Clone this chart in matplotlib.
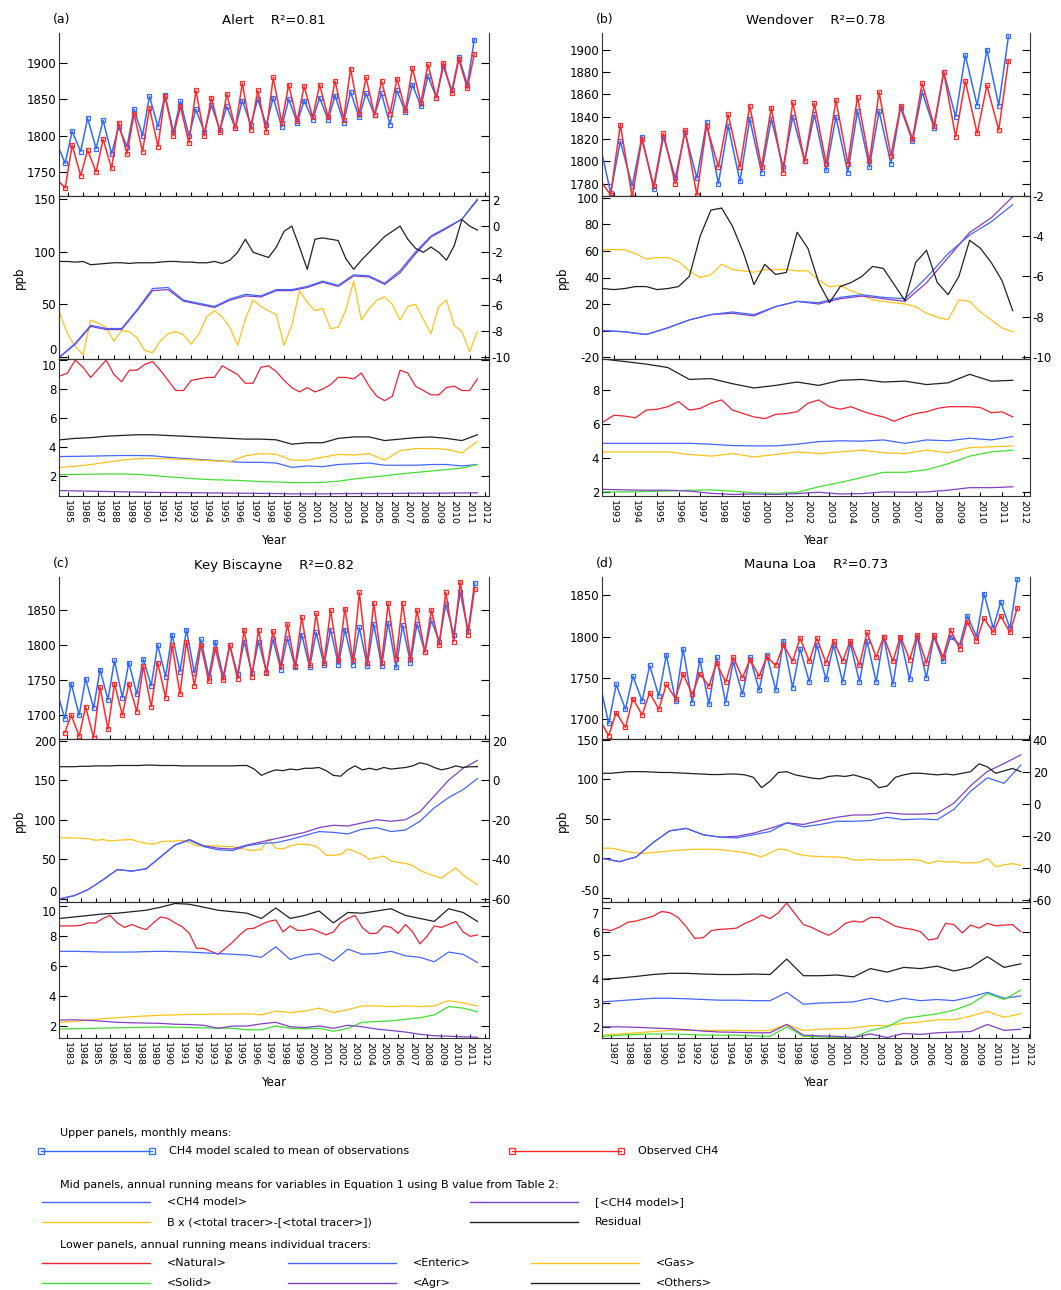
import numpy as np
import matplotlib
matplotlib.use("Agg")
import matplotlib.pyplot as plt
import matplotlib.transforms as mtransforms

plt.rcParams['font.family'] = ['DejaVu Sans']
plt.rcParams['axes.unicode_minus'] = False

# colours
C_BLUE_UP = '#2f6bff'
C_RED_UP = '#ff2a2a'
C_BLUE = '#4466ff'
C_PURPLE = '#8040c0'
C_YELLOW = '#ffc21a'
C_BLACK = '#202020'
C_RED = '#ee2233'
C_GREEN = '#44dd33'

# ---------------- (a) Alert ----------------
# upper panel: seasonal highs / lows per year (from 1984)
alert_mod_hi = [1790, 1806, 1824, 1821, 1812, 1836, 1854, 1856, 1847, 1836, 1842, 1840, 1848, 1850,
                1852, 1850, 1848, 1852, 1855, 1860, 1858, 1858, 1862, 1870, 1882, 1895, 1908, 1932]
alert_mod_lo = [1762, 1778, 1782, 1775, 1785, 1800, 1812, 1805, 1800, 1805, 1808, 1810, 1815, 1815,
                1812, 1818, 1822, 1822, 1818, 1825, 1828, 1815, 1832, 1840, 1852, 1862, 1870]
alert_obs_hi = [1740, 1787, 1780, 1795, 1818, 1830, 1838, 1855, 1840, 1862, 1852, 1857, 1872, 1862,
                1880, 1870, 1868, 1870, 1875, 1892, 1880, 1875, 1878, 1893, 1898, 1900, 1905, 1912]
alert_obs_lo = [1728, 1745, 1750, 1755, 1775, 1778, 1785, 1800, 1790, 1800, 1805, 1810, 1808, 1805,
                1818, 1820, 1825, 1825, 1822, 1830, 1828, 1830, 1835, 1845, 1852, 1858, 1865]
# mid panel (annual nodes from 1984.5, half-year nodes for yellow / residual)
alert_ch4 = [0, 13, 30, 27, 27, 45, 65, 66, 54, 51, 48, 55, 59.5, 58, 64, 64, 67, 72, 68, 78, 77, 70,
             82, 100, 115, 123, 131, 150]
alert_ch4_b = [0, 12, 29, 26, 26, 44, 63, 64, 53, 50, 47, 54, 58, 57, 63, 63, 66, 71, 67, 77, 76, 69,
               80, 98, 114, 122, 131, 149]
alert_tracer = [42, 22, 10, 2, 35, 32, 28, 15, 25, 24, 18, 6, 4, 15, 22, 24, 21, 12, 22, 38, 44, 38,
                28, 11, 36, 54, 48, 44, 40, 11, 30, 63, 52, 44, 46, 27, 28, 45, 72, 35, 46, 54, 57,
                50, 35, 48, 50, 36, 22, 48, 54, 30, 24, 5, 24]
alert_resid = [-2.7, -2.7, -2.75, -2.7, -2.95, -2.9, -2.85, -2.8, -2.8, -2.85, -2.8, -2.8, -2.8, -2.75,
               -2.7, -2.7, -2.75, -2.75, -2.8, -2.8, -2.7, -2.85, -2.6, -2.0, -1.0, -2.0, -2.2, -2.4,
               -1.6, -0.4, 0.0, -1.6, -3.3, -1.0, -0.9, -1.0, -1.1, -2.5, -3.3, -2.6, -2.0, -1.4,
               -0.8, -0.4, 0.0, -1.0, -1.7, -2.0, -1.6, -2.0, -2.6, -1.5, 0.5, 0.0, -0.3]
# lower panel
alert_natural = [8.9, 9.1, 10.0, 9.5, 8.8, 9.4, 10.0, 9.0, 8.5, 9.3, 9.3, 9.7, 9.9, 9.3, 8.6, 7.9, 7.9,
                 8.6, 8.7, 8.8, 8.8, 9.6, 9.3, 9.0, 8.4, 8.4, 9.5, 9.6, 9.2, 8.6, 8.1, 7.8, 8.1, 7.8,
                 8.0, 8.3, 8.8, 8.8, 8.7, 9.1, 8.2, 7.5, 7.2, 7.5, 9.3, 9.1, 8.2, 7.9, 7.6, 7.6, 8.1,
                 8.2, 7.9, 7.9, 8.7]
alert_others = [4.5, 4.6, 4.65, 4.75, 4.8, 4.85, 4.85, 4.8, 4.75, 4.7, 4.65, 4.6, 4.55, 4.55, 4.5, 4.2,
                4.3, 4.3, 4.6, 4.7, 4.7, 4.45, 4.55, 4.65, 4.7, 4.6, 4.45, 4.85]
alert_enteric = [3.35, 3.36, 3.38, 3.4, 3.42, 3.42, 3.4, 3.3, 3.22, 3.15, 3.08, 3.0, 2.95, 2.95, 2.9,
                 2.6, 2.7, 2.65, 2.8, 2.85, 2.9, 2.75, 2.75, 2.75, 2.8, 2.8, 2.7, 2.8]
alert_gas = [2.6, 2.68, 2.8, 2.95, 3.1, 3.2, 3.22, 3.2, 3.15, 3.1, 3.05, 3.0, 3.4, 3.55, 3.5, 3.1, 3.1,
             3.3, 3.5, 3.45, 3.55, 3.1, 3.75, 3.9, 3.9, 3.85, 3.6, 4.4]
alert_solid = [2.1, 2.12, 2.13, 2.15, 2.15, 2.12, 2.05, 1.95, 1.88, 1.8, 1.75, 1.72, 1.68, 1.62, 1.6,
               1.55, 1.55, 1.57, 1.65, 1.8, 1.92, 2.02, 2.15, 2.25, 2.35, 2.45, 2.55, 2.8]
alert_agr = [1.0, 0.98, 0.96, 0.94, 0.92, 0.9, 0.88, 0.87, 0.86, 0.85, 0.84, 0.83, 0.82, 0.81, 0.8,
             0.78, 0.78, 0.78, 0.79, 0.8, 0.8, 0.8, 0.81, 0.82, 0.82, 0.83, 0.84, 0.85]

# ---------------- (b) Wendover ----------------
wend_mod_hi = [1820, 1818, 1822, 1822, 1826, 1835, 1832, 1838, 1838, 1840, 1842, 1840, 1845, 1845,
               1848, 1862, 1880, 1895, 1900, 1912]
wend_mod_lo = [1772, 1778, 1775, 1785, 1785, 1780, 1782, 1790, 1795, 1800, 1792, 1790, 1795, 1798,
               1818, 1830, 1840, 1850, 1850]
wend_obs_hi = [1785, 1833, 1820, 1825, 1828, 1832, 1842, 1850, 1848, 1853, 1852, 1855, 1858, 1862,
               1850, 1870, 1880, 1872, 1868, 1890]
wend_obs_lo = [1770, 1768, 1778, 1780, 1770, 1795, 1795, 1795, 1790, 1800, 1798, 1798, 1800, 1805,
               1820, 1832, 1822, 1825, 1828]
wend_ch4 = [0, -1, -3, 2, 8, 12, 14, 12, 18, 22, 21, 25, 27, 25, 24, 40, 58, 72, 82, 95]
wend_ch4_b = [0, -1, -3, 2, 8, 12, 13, 11, 18, 22, 20, 24, 26, 24, 22, 36, 55, 74, 85, 101]
wend_tracer = [61, 61, 61, 58, 54, 55, 55, 52, 45, 40, 42, 50, 46, 45, 44, 46, 46, 46, 45, 45, 38, 33,
               34, 30, 27, 23, 22, 21, 20, 18, 13, 10, 8, 23, 22, 14, 8, 2, -1]
wend_resid = [-6.6, -6.65, -6.6, -6.5, -6.5, -6.65, -6.6, -6.5, -6.0, -4.0, -2.7, -2.6, -3.5, -4.8,
              -6.4, -5.4, -5.9, -5.8, -3.8, -4.6, -6.3, -7.3, -6.5, -6.3, -6.0, -5.5, -5.6, -6.4,
              -7.2, -5.3, -4.7, -6.3, -6.9, -6.0, -4.2, -4.6, -5.3, -6.2, -7.7]
wend_natural = [6.1, 6.5, 6.45, 6.35, 6.8, 6.85, 7.0, 7.3, 6.8, 6.9, 7.2, 7.4, 6.8, 6.6, 6.4, 6.3,
                6.55, 6.6, 6.7, 7.2, 7.4, 7.0, 6.85, 7.0, 6.75, 6.55, 6.4, 6.15, 6.4, 6.6, 6.7, 6.9,
                7.0, 7.0, 7.0, 6.95, 6.65, 6.7, 6.4]
wend_others = [9.8, 9.65, 9.5, 9.3, 8.6, 8.65, 8.35, 8.1, 8.25, 8.45, 8.25, 8.55, 8.6, 8.45, 8.5, 8.3,
               8.4, 8.9, 8.5, 8.55]
wend_enteric = [4.85, 4.85, 4.85, 4.85, 4.85, 4.8, 4.72, 4.7, 4.7, 4.8, 4.95, 5.0, 4.98, 5.05, 4.85,
                5.05, 5.0, 5.15, 5.05, 5.25]
wend_gas = [4.35, 4.35, 4.35, 4.35, 4.2, 4.1, 4.25, 4.05, 4.2, 4.35, 4.25, 4.35, 4.45, 4.3, 4.25, 4.45,
            4.3, 4.6, 4.65, 4.7]
wend_solid = [2.0, 2.0, 2.02, 2.05, 2.1, 2.12, 2.05, 1.95, 1.92, 1.98, 2.3, 2.55, 2.85, 3.15, 3.15,
              3.3, 3.65, 4.1, 4.35, 4.45]
wend_agr = [2.15, 2.12, 2.1, 2.1, 2.05, 1.92, 1.85, 1.88, 1.85, 1.9, 1.98, 1.88, 1.9, 2.0, 1.98, 2.0,
            2.1, 2.25, 2.25, 2.3]

# ---------------- (c) Key Biscayne ----------------
kb_mod_hi = [1735, 1745, 1752, 1765, 1778, 1775, 1780, 1800, 1815, 1822, 1808, 1805, 1800, 1805, 1805,
             1808, 1810, 1815, 1818, 1822, 1822, 1825, 1830, 1832, 1828, 1830, 1835, 1858, 1875, 1888]
kb_mod_lo = [1695, 1700, 1710, 1722, 1725, 1730, 1742, 1755, 1762, 1760, 1755, 1755, 1758, 1760, 1762,
             1765, 1768, 1768, 1772, 1772, 1772, 1770, 1770, 1768, 1775, 1790, 1805, 1815, 1820]
kb_obs_hi = [np.nan, 1700, 1712, 1740, 1745, 1745, 1770, 1775, 1800, 1805, 1800, 1795, 1800, 1822,
             1822, 1820, 1830, 1840, 1845, 1850, 1852, 1875, 1860, 1860, 1860, 1850, 1850, 1875,
             1890, 1880]
kb_obs_lo = [1675, 1670, 1668, 1680, 1700, 1705, 1712, 1725, 1730, 1742, 1748, 1750, 1752, 1755, 1760,
             1770, 1770, 1772, 1775, 1778, 1778, 1775, 1775, 1780, 1780, 1790, 1800, 1805, 1815]
kb_ch4 = [0, 4, 12, 24, 37, 35, 38, 53, 68, 74, 66, 62, 61, 67, 70, 71, 75, 80, 85, 84, 82, 88, 90, 85,
          87, 98, 115, 128, 138, 152]
kb_ch4_b = [0, 4, 12, 24, 37, 35, 38, 53, 68, 75, 67, 64, 63, 68, 72, 76, 80, 84, 90, 93, 92, 96, 100,
            98, 100, 110, 130, 150, 165, 175]
kb_tracer = [77, 77, 77, 76.5, 76, 74, 75, 73, 74, 74.5, 75, 72, 70, 69, 72, 73, 73, 74, 71, 67, 67,
             67, 67, 66, 66, 64, 62, 61, 63, 76, 64, 63, 67, 69, 69, 68, 64, 55, 55, 56, 63, 60, 56,
             50, 52, 54, 48, 46, 45, 42, 36, 32, 29, 26, 33, 39, 30, 24, 18]
kb_resid = [6.8, 6.8, 6.8, 7.0, 7.0, 7.2, 7.2, 7.2, 7.4, 7.4, 7.4, 7.4, 7.6, 7.6, 7.4, 7.4, 7.4, 7.2,
            7.2, 7.2, 7.2, 7.2, 7.2, 7.2, 7.2, 7.4, 7.4, 5.6, 2.4, 4.0, 5.2, 4.8, 5.6, 5.2, 6.0, 6.0,
            6.4, 4.8, 2.4, 2.0, 5.2, 7.2, 5.2, 6.0, 5.2, 6.4, 5.6, 6.0, 6.4, 7.2, 8.8, 8.0, 6.4, 5.2,
            6.0, 7.2, 6.4, 6.8, 6.8]
kb_natural = [8.7, 8.7, 8.7, 8.75, 8.9, 8.9, 9.2, 9.4, 8.9, 8.6, 8.8, 8.6, 8.45, 8.9, 9.3, 9.2, 8.9,
              8.65, 8.2, 7.2, 7.2, 7.0, 6.8, 7.2, 7.6, 8.1, 8.5, 8.55, 8.8, 9.0, 9.1, 8.3, 8.7, 8.4,
              8.4, 8.5, 8.3, 8.1, 8.3, 8.9, 9.2, 9.4, 8.6, 8.2, 8.2, 8.7, 8.6, 8.2, 8.8, 8.3, 7.5,
              8.0, 8.7, 8.6, 8.8, 9.0, 8.3, 8.0, 8.1]
kb_others = [9.2, 9.3, 9.4, 9.5, 9.55, 9.65, 9.75, 9.95, 10.2, 10.15, 9.95, 9.75, 9.65, 9.55, 9.2, 9.9,
             9.2, 9.4, 9.7, 8.9, 9.6, 9.55, 9.7, 9.85, 9.4, 9.2, 9.0, 9.85, 9.6, 9.0]
kb_enteric = [7.0, 7.0, 6.98, 6.95, 6.95, 6.95, 6.98, 7.0, 6.98, 6.95, 6.9, 6.85, 6.8, 6.75, 6.6, 7.3,
              6.45, 6.75, 6.85, 6.35, 7.15, 6.8, 6.85, 7.0, 6.7, 6.6, 6.3, 6.95, 6.8, 6.25]
kb_gas = [2.25, 2.3, 2.4, 2.5, 2.55, 2.62, 2.68, 2.72, 2.75, 2.78, 2.78, 2.8, 2.8, 2.82, 2.75, 3.0,
          2.9, 3.0, 3.2, 2.9, 3.1, 3.35, 3.35, 3.3, 3.35, 3.3, 3.35, 3.7, 3.55, 3.35]
kb_solid = [1.8, 1.82, 1.84, 1.86, 1.88, 1.9, 1.92, 1.93, 1.92, 1.9, 1.88, 1.86, 1.85, 1.75, 1.75, 2.0,
            1.85, 1.82, 1.85, 1.65, 1.85, 2.25, 2.3, 2.35, 2.45, 2.55, 2.75, 3.3, 3.2, 2.95]
kb_agr = [2.4, 2.42, 2.38, 2.32, 2.25, 2.22, 2.2, 2.18, 2.12, 2.1, 2.05, 1.85, 2.0, 2.0, 2.15, 2.25,
          1.95, 1.9, 2.0, 1.85, 2.05, 1.95, 1.8, 1.7, 1.6, 1.45, 1.35, 1.32, 1.28, 1.25]

# ---------------- (d) Mauna Loa ----------------
ml_mod_hi = [1745, 1742, 1752, 1765, 1778, 1785, 1772, 1775, 1770, 1775, 1778, 1795, 1785, 1790, 1790,
             1792, 1795, 1800, 1798, 1800, 1800, 1800, 1825, 1852, 1842, 1870]
ml_mod_lo = [1695, 1712, 1722, 1728, 1722, 1720, 1718, 1720, 1730, 1735, 1735, 1738, 1745, 1748, 1745,
             1745, 1745, 1742, 1748, 1750, 1770, 1790, 1800, 1810, 1810]
ml_obs_hi = [1700, 1708, 1725, 1732, 1742, 1755, 1755, 1768, 1775, 1772, 1775, 1790, 1798, 1798, 1795,
             1795, 1805, 1800, 1800, 1802, 1802, 1808, 1818, 1822, 1825, 1835]
ml_obs_lo = [1680, 1690, 1705, 1712, 1725, 1730, 1740, 1745, 1750, 1752, 1765, 1770, 1770, 1768, 1770,
             1765, 1775, 1770, 1772, 1768, 1775, 1785, 1795, 1805, 1805]
ml_ch4 = [0, -4, 2, 20, 35, 38, 30, 27, 26, 30, 34, 45, 40, 43, 47, 47, 48, 52, 49, 50, 49, 62, 85,
          102, 95, 118]
ml_ch4_b = [0, -4, 2, 20, 35, 38, 30, 27, 28, 32, 38, 45, 43, 48, 52, 55, 55, 58, 56, 56, 57, 70, 92,
            110, 120, 131]
ml_tracer = [13, 13, 11, 8.5, 7, 6.5, 7.5, 8.6, 9.5, 10.5, 11, 11.6, 11.6, 11.6, 11, 10, 9, 7.3, 5, 2,
             7, 12, 11, 6.5, 4, 3, 2.5, 2, 2, 1, -2, -2, -1, -2, -2, -2, -1.5, -1.3, -2.5, -6.5, -3,
             -4.3, -4, -5.6, -5.6, -5, 0, -10.5, -8, -6.5, -8.6]
ml_resid = [19.2, 19.2, 19.7, 20.2, 20.2, 20.2, 19.9, 19.7, 19.7, 19.4, 19.2, 18.9, 18.7, 18.4, 18.4,
            18.7, 18.7, 18.2, 16.7, 10.2, 14.2, 19.7, 20.2, 18.2, 17.2, 16.2, 15.7, 17.2, 17.7, 17.2,
            18.2, 16.7, 15.2, 10.2, 11.2, 16.7, 18.2, 19.2, 19.2, 18.7, 18.2, 18.7, 18.2, 19.2, 20.2,
            25.1, 23.2, 19.2, 20.7, 22.2, 20.2]
ml_natural = [6.1, 6.05, 6.2, 6.4, 6.45, 6.55, 6.65, 6.85, 6.8, 6.6, 6.2, 5.72, 5.75, 6.05, 6.1, 6.12,
              6.15, 6.35, 6.5, 6.7, 6.55, 6.8, 7.2, 6.75, 6.3, 6.18, 6.0, 5.85, 6.05, 6.35, 6.45, 6.4,
              6.6, 6.6, 6.42, 6.23, 6.15, 6.1, 6.0, 5.65, 5.72, 6.35, 6.3, 5.95, 6.28, 6.15, 6.35,
              6.25, 6.28, 6.3, 6.0]
ml_others = [4.0, 4.05, 4.12, 4.2, 4.25, 4.25, 4.22, 4.2, 4.2, 4.22, 4.2, 4.85, 4.15, 4.15, 4.18, 4.1,
             4.45, 4.3, 4.5, 4.45, 4.55, 4.35, 4.5, 4.95, 4.5, 4.65]
ml_enteric = [3.05, 3.1, 3.15, 3.2, 3.2, 3.18, 3.15, 3.12, 3.12, 3.1, 3.1, 3.45, 2.95, 3.0, 3.02, 3.05,
              3.2, 3.05, 3.2, 3.1, 3.15, 3.1, 3.25, 3.45, 3.2, 3.3]
ml_gas = [1.65, 1.7, 1.75, 1.8, 1.85, 1.85, 1.85, 1.85, 1.85, 1.83, 1.85, 2.1, 1.85, 1.9, 1.92, 1.95,
          2.05, 2.05, 2.15, 2.2, 2.3, 2.3, 2.45, 2.65, 2.4, 2.55]
ml_solid = [1.6, 1.65, 1.68, 1.7, 1.7, 1.68, 1.65, 1.65, 1.65, 1.62, 1.6, 2.0, 1.6, 1.58, 1.55, 1.55,
            1.85, 2.0, 2.35, 2.45, 2.55, 2.7, 2.95, 3.4, 3.15, 3.55]
ml_agr = [2.0, 2.0, 1.98, 1.95, 1.92, 1.88, 1.82, 1.78, 1.77, 1.75, 1.75, 2.1, 1.65, 1.62, 1.6, 1.55,
          1.7, 1.55, 1.72, 1.68, 1.75, 1.78, 1.8, 2.1, 1.85, 1.9]


def zigzag(y0, hi, lo):
    # winter high / summer low of each year, in time order
    t, v = [], []
    for i, h in enumerate(hi):
        t.append(y0 + i + 0.3)
        v.append(h)
        if i < len(lo):
            t.append(y0 + i + 0.85)
            v.append(lo[i])
    return np.array(t), np.array(v, dtype=float)


def half(t0, vals):
    return t0 + 0.5 * np.arange(len(vals)), np.array(vals, dtype=float)


def annual(t0, vals):
    return t0 + np.arange(len(vals)), np.array(vals, dtype=float)


stations = [
    dict(letter='(a)', name='Alert', r2='0.81', px=(59, 489), rows=(33, 196, 359, 496),
         xlim=(1984.45, 2012.25), first=1985, y0=1984, t0=1984.5,
         up=(alert_mod_hi, alert_mod_lo, alert_obs_hi, alert_obs_lo),
         up_ylim=(1717, 1941), up_ticks=[1750, 1800, 1850, 1900],
         mid=(alert_ch4, alert_ch4_b, alert_tracer, alert_resid),
         mid_ylim=(-2, 153), mid_ticks=[0, 50, 100, 150],
         res_ylim=(-10.15, 2.3), res_ticks=[-10, -8, -6, -4, -2, 0, 2],
         low=(alert_natural, alert_others, alert_enteric, alert_gas, alert_solid, alert_agr),
         low_ylim=(0.63, 10.07), low_ticks=[2, 4, 6, 8, 10]),
    dict(letter='(b)', name='Wendover', r2='0.78', px=(602, 1030), rows=(33, 196, 359, 496),
         xlim=(1992.45, 2012.3), first=1993, y0=1992, t0=1992.5,
         up=(wend_mod_hi, wend_mod_lo, wend_obs_hi, wend_obs_lo),
         up_ylim=(1769, 1915), up_ticks=[1780, 1800, 1820, 1840, 1860, 1880, 1900],
         mid=(wend_ch4, wend_ch4_b, wend_tracer, wend_resid),
         mid_ylim=(-21.5, 101.5), mid_ticks=[-20, 0, 20, 40, 60, 80, 100],
         res_ylim=(-10.1, -2.0), res_ticks=[-10, -8, -6, -4, -2],
         low=(wend_natural, wend_others, wend_enteric, wend_gas, wend_solid, wend_agr),
         low_ylim=(1.76, 9.8), low_ticks=[2, 4, 6, 8]),
    dict(letter='(c)', name='Key Biscayne', r2='0.82', px=(59, 489), rows=(577, 739, 902, 1038),
         xlim=(1982.45, 2012.3), first=1983, y0=1982, t0=1982.5,
         up=(kb_mod_hi, kb_mod_lo, kb_obs_hi, kb_obs_lo),
         up_ylim=(1666, 1897), up_ticks=[1700, 1750, 1800, 1850],
         mid=(kb_ch4, kb_ch4_b, kb_tracer, kb_resid),
         mid_ylim=(-4, 202), mid_ticks=[0, 50, 100, 150, 200],
         res_ylim=(-61.6, 20.8), res_ticks=[-60, -40, -20, 0, 20],
         low=(kb_natural, kb_others, kb_enteric, kb_gas, kb_solid, kb_agr),
         low_ylim=(1.2, 10.3), low_ticks=[2, 4, 6, 8, 10]),
    dict(letter='(d)', name='Mauna Loa', r2='0.73', px=(602, 1030), rows=(577, 739, 902, 1038),
         xlim=(1986.45, 2012.05), first=1987, y0=1986, t0=1986.5,
         up=(ml_mod_hi, ml_mod_lo, ml_obs_hi, ml_obs_lo),
         up_ylim=(1676, 1872), up_ticks=[1700, 1750, 1800, 1850],
         mid=(ml_ch4, ml_ch4_b, ml_tracer, ml_resid),
         mid_ylim=(-55, 151), mid_ticks=[-50, 0, 50, 100, 150],
         res_ylim=(-61.2, 40.6), res_ticks=[-60, -40, -20, 0, 20, 40],
         low=(ml_natural, ml_others, ml_enteric, ml_gas, ml_solid, ml_agr),
         low_ylim=(1.53, 7.25), low_ticks=[2, 3, 4, 5, 6, 7]),
]

W, H = 1061.0, 1290.0
fig = plt.figure(figsize=(W / 100, H / 100), dpi=100)

SPINE = '#333333'
LW = 0.9
TICK_FS = 8.5


def near_edge(ticks, ylim, where):
    lo, hi = ylim
    span = hi - lo
    if where == 'bottom':
        return [v for v in ticks if v - lo < 0.06 * span]
    return [v for v in ticks if hi - v < 0.06 * span]


def set_yticks_edge(ax, ticks, nudge, where):
    # tick labels that would collide with the neighbouring panel's label are
    # drawn by hand, pushed just inside their own panel
    labels = ['' if v in nudge else str(v) for v in ticks]
    ax.set_yticks(ticks, labels=labels)
    trans = mtransforms.blended_transform_factory(ax.transAxes, ax.transData)
    for v in nudge:
        ax.text(-0.0065, v, str(v), transform=trans, ha='right', va=where, fontsize=TICK_FS)


for st in stations:
    x0, x1 = st['px']
    r = st['rows']
    w = (x1 - x0) / W
    ax_up = fig.add_axes([x0 / W, 1 - r[1] / H, w, (r[1] - r[0]) / H])
    ax_mid = fig.add_axes([x0 / W, 1 - r[2] / H, w, (r[2] - r[1]) / H])
    ax_low = fig.add_axes([x0 / W, 1 - r[3] / H, w, (r[3] - r[2]) / H])

    # upper: monthly means
    mod_hi, mod_lo, obs_hi, obs_lo = st['up']
    t, v = zigzag(st['y0'], mod_hi, mod_lo)
    ax_up.plot(t, v, color=C_BLUE_UP, lw=1.1, marker='s', ms=2.8, mfc='none', mew=0.9)
    t, v = zigzag(st['y0'], obs_hi, obs_lo)
    ax_up.plot(t, v, color=C_RED_UP, lw=1.1, marker='s', ms=2.8, mfc='none', mew=0.9)
    ax_up.set_ylim(st['up_ylim'])
    ax_up.set_yticks(st['up_ticks'])
    ax_up.spines['top'].set_visible(False)

    # labels at the mid / lower boundary only get nudged when both panels have one there
    mid_edge = near_edge(st['mid_ticks'], st['mid_ylim'], 'bottom')
    low_edge = near_edge(st['low_ticks'], st['low_ylim'], 'top')
    if not (mid_edge and low_edge):
        mid_edge, low_edge = [], []

    # mid: running means + residual on right axis
    ch4, ch4_b, tracer, resid = st['mid']
    ax_mid.plot(*half(st['t0'], tracer), color=C_YELLOW, lw=LW)
    ax_mid.plot(*annual(st['t0'], ch4_b), color=C_PURPLE, lw=LW)
    ax_mid.plot(*annual(st['t0'], ch4), color=C_BLUE, lw=LW)
    ax_mid.set_ylim(st['mid_ylim'])
    set_yticks_edge(ax_mid, st['mid_ticks'], mid_edge, 'bottom')
    ax_res = ax_mid.twinx()
    ax_res.plot(*half(st['t0'], resid), color=C_BLACK, lw=LW)
    ax_res.set_ylim(st['res_ylim'])
    ax_res.set_yticks(st['res_ticks'])
    ax_res.set_xlim(st['xlim'])
    ax_res.tick_params(direction='in', length=6, width=0.8, labelsize=TICK_FS, pad=2)
    for s in ax_res.spines.values():
        s.set_color(SPINE)
        s.set_linewidth(0.8)

    # lower: individual tracers
    natural, others, enteric, gas, solid, agr = st['low']
    ax_low.plot(*half(st['t0'], natural), color=C_RED, lw=LW)
    for vals, c in ((others, C_BLACK), (enteric, C_BLUE), (gas, C_YELLOW),
                    (solid, C_GREEN), (agr, C_PURPLE)):
        ax_low.plot(*annual(st['t0'], vals), color=c, lw=LW)
    ax_low.set_ylim(st['low_ylim'])
    set_yticks_edge(ax_low, st['low_ticks'], low_edge, 'top')

    years = np.arange(st['first'], 2013)
    for ax in (ax_up, ax_mid, ax_low):
        ax.set_xlim(st['xlim'])
        ax.set_xticks(years)
        ax.tick_params(axis='x', direction='in', length=3, width=0.8, labelbottom=False)
        ax.tick_params(axis='y', direction='in', length=6, width=0.8, labelsize=TICK_FS, pad=2,
                       right=(ax is not ax_mid))
        for s in ax.spines.values():
            s.set_color(SPINE)
            s.set_linewidth(0.8)
    ax_low.set_xticklabels([str(y) for y in years])
    ax_low.tick_params(axis='x', labelbottom=True, labelrotation=270, labelsize=6.8, pad=3)

    cx = (x0 + x1) / 2 / W
    fig.text(cx, 1 - (r[0] - 12) / H, f"{st['name']}    R\u00b2={st['r2']}",
             ha='center', va='center', fontsize=9.5)
    fig.text((x0 - 6) / W, 1 - (r[0] - 13) / H, st['letter'], ha='left', va='center', fontsize=9)
    fig.text((x0 - 40) / W, 1 - (r[1] + r[2]) / 2 / H, 'ppb', rotation=90,
             ha='center', va='center', fontsize=8.5)
    fig.text(cx, 1 - (r[3] + 45) / H, 'Year', ha='center', va='center', fontsize=8.5)

# legend block drawn in pixel coordinates
leg = fig.add_axes([0, 0, 1, 1])
leg.set_xlim(0, W)
leg.set_ylim(H, 0)
leg.axis('off')
FS = 8


def leg_line(xa, xb, y, color, text, boxes=False):
    if boxes:
        leg.plot([xa, xb], [y, y], color=color, lw=1.0, marker='s', ms=5, mfc='none', mew=0.9)
    else:
        leg.plot([xa, xb], [y, y], color=color, lw=1.0)
    leg.text(xb + 17, y, text, ha='left', va='center', fontsize=FS)


leg.text(60, 1133, 'Upper panels, monthly means:', ha='left', va='center', fontsize=FS)
leg_line(41, 152, 1151, C_BLUE_UP, 'CH4 model scaled to mean of observations', boxes=True)
leg_line(512, 621, 1151, C_RED_UP, 'Observed CH4', boxes=True)
leg.text(60, 1185, 'Mid panels, annual running means for variables in Equation 1 using B value from Table 2:',
         ha='left', va='center', fontsize=FS)
leg_line(42, 150, 1202, C_BLUE, '<CH4 model>')
leg_line(470, 578, 1202, C_PURPLE, '[<CH4 model>]')
leg_line(42, 150, 1222, C_YELLOW, 'B x (<total tracer>-[<total tracer>])')
leg_line(470, 578, 1222, C_BLACK, 'Residual')
leg.text(60, 1245, 'Lower panels, annual running means individual tracers:', ha='left', va='center',
         fontsize=FS)
leg_line(42, 150, 1263, C_RED, '<Natural>')
leg_line(288, 396, 1263, C_BLUE, '<Enteric>')
leg_line(531, 639, 1263, C_YELLOW, '<Gas>')
leg_line(42, 150, 1283, C_GREEN, '<Solid>')
leg_line(288, 396, 1283, C_PURPLE, '<Agr>')
leg_line(531, 639, 1283, C_BLACK, '<Others>')

fig.savefig('out.png', dpi=100)
